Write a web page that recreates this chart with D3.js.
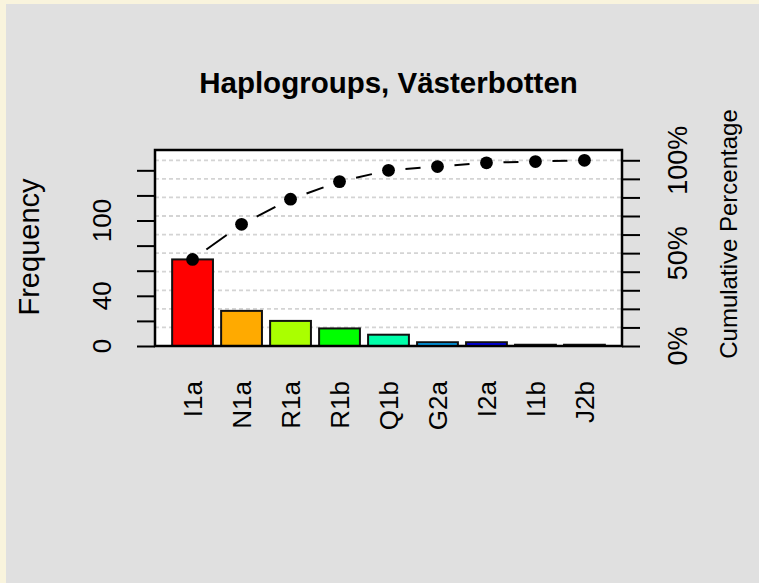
<!DOCTYPE html>
<html>
<head>
<meta charset="utf-8">
<script src="https://cdn.jsdelivr.net/npm/d3@7"></script>
<style>
  body { margin: 0; padding: 0; }
  svg { display: block; font-family: "Liberation Sans", Arial, sans-serif; }
</style>
</head>
<body>
<svg id="graph" width="759" height="583"></svg>
<script>
// data
var groups = ["I1a", "N1a", "R1a", "R1b", "Q1b", "G2a", "I2a", "I1b", "J2b"]
var freq = [69, 28, 20, 14, 9, 3, 3, 1, 1]
var barColors = ["#FF0000", "#FFAA00", "#AAFF00", "#00FF00", "#00FFAA", "#00AAFF", "#0000FF", "#AA00FF", "#FF00AA"]
var leftTicks = [0, 20, 40, 60, 80, 100, 120, 140]
var leftLabels = [0, 40, 100]
var pctTicks = [0, 10, 20, 30, 40, 50, 60, 70, 80, 90, 100]
var pctLabels = [0, 50, 100]

var total = d3.sum(freq)
var cum = Array.from(d3.cumsum(freq))

var box = { left: 155, right: 622, top: 151, bottom: 346 }

var svg = d3.select("#graph")

svg.append("rect").attr("width", 759).attr("height", 583).attr("fill", "#f9f4dd")
svg.append("rect").attr("x", 6).attr("y", 4).attr("width", 753).attr("height", 579).attr("fill", "#e0e0e0")

var xScale = d3.scaleBand().domain(groups)
    .range([box.left, box.right])
    .paddingInner(1 / 6)
    .paddingOuter(0.35)

var yScale = d3.scaleLinear().domain([0, total * 1.05]).range([box.bottom, box.top])
var pScale = d3.scaleLinear().domain([0, 100]).range([yScale(0), yScale(total)])

// plot area
svg.append("rect")
    .attr("x", box.left).attr("y", box.top - 1)
    .attr("width", box.right - box.left).attr("height", box.bottom - box.top + 1)
    .attr("fill", "white")

// dashed grid at the percentage ticks
svg.selectAll(".grid")
    .data(pctTicks.slice(1))
    .enter().append("line")
    .attr("x1", box.left).attr("x2", box.right)
    .attr("y1", d => pScale(d)).attr("y2", d => pScale(d))
    .attr("stroke", "#d4d4d4")
    .attr("stroke-width", 1.8)
    .attr("stroke-dasharray", "4,3")

svg.selectAll(".bar")
    .data(freq)
    .enter().append("rect")
    .attr("x", (d, i) => xScale(groups[i]))
    .attr("y", d => yScale(d))
    .attr("width", xScale.bandwidth())
    .attr("height", d => yScale(0) - yScale(d))
    .attr("fill", (d, i) => barColors[i])
    .attr("stroke", "#111")
    .attr("stroke-width", 2)

// cumulative line, type "b": segments with gaps round the points
var pts = cum.map((c, i) => ({ x: xScale(groups[i]) + xScale.bandwidth() / 2, y: yScale(c) }))
var gap = 17
for (var i = 0; i < pts.length - 1; i++) {
    var a = pts[i], b = pts[i + 1]
    var dx = b.x - a.x, dy = b.y - a.y
    var len = Math.sqrt(dx * dx + dy * dy)
    if (len <= 2 * gap) continue
    var ux = dx / len, uy = dy / len
    svg.append("line")
        .attr("x1", a.x + ux * gap).attr("y1", a.y + uy * gap)
        .attr("x2", b.x - ux * gap).attr("y2", b.y - uy * gap)
        .attr("stroke", "black")
        .attr("stroke-width", 2)
        .attr("stroke-dasharray", "25,12")
}

svg.selectAll(".pt")
    .data(pts)
    .enter().append("circle")
    .attr("cx", d => d.x).attr("cy", d => d.y)
    .attr("r", 6.4)
    .attr("fill", "black")

// box
svg.append("rect")
    .attr("x", box.left).attr("y", box.top - 1)
    .attr("width", box.right - box.left).attr("height", box.bottom - box.top + 1)
    .attr("fill", "none")
    .attr("stroke", "black")
    .attr("stroke-width", 2.5)

// left axis
var leftAxis = svg.append("g")
    .attr("transform", "translate(" + box.left + ",0)")
    .call(d3.axisLeft(yScale).tickValues(leftTicks).tickSize(18).tickFormat(""))
leftAxis.select(".domain").remove()
leftAxis.selectAll(".tick line").attr("stroke", "black").attr("stroke-width", 2)

svg.selectAll(".ylab")
    .data(leftLabels)
    .enter().append("text")
    .attr("transform", d => "translate(111," + yScale(d) + ") rotate(-90)")
    .attr("text-anchor", "middle")
    .attr("font-size", 26)
    .text(d => d)

// right axis
var rightAxis = svg.append("g")
    .attr("transform", "translate(" + box.right + ",0)")
    .call(d3.axisRight(pScale).tickValues(pctTicks).tickSize(18).tickFormat(""))
rightAxis.select(".domain").remove()
rightAxis.selectAll(".tick line").attr("stroke", "black").attr("stroke-width", 2)

svg.selectAll(".plab")
    .data(pctLabels)
    .enter().append("text")
    .attr("transform", d => "translate(687," + pScale(d) + ") rotate(-90)")
    .attr("text-anchor", "middle")
    .attr("font-size", 27)
    .text(d => d + "%")

// category labels
svg.selectAll(".xlab")
    .data(groups)
    .enter().append("text")
    .attr("transform", d => "translate(" + (xScale(d) + xScale.bandwidth() / 2) + ",381) rotate(-90)")
    .attr("text-anchor", "end")
    .attr("dy", "0.36em")
    .attr("font-size", 26)
    .text(d => d)

// titles
svg.append("text")
    .attr("x", (box.left + box.right) / 2).attr("y", 93)
    .attr("text-anchor", "middle")
    .attr("font-size", 29.5)
    .attr("font-weight", "bold")
    .text("Haplogroups, Västerbotten")

svg.append("text")
    .attr("transform", "translate(39,247) rotate(-90)")
    .attr("text-anchor", "middle")
    .attr("font-size", 29)
    .text("Frequency")

svg.append("text")
    .attr("transform", "translate(737,234) rotate(-90)")
    .attr("text-anchor", "middle")
    .attr("font-size", 24)
    .text("Cumulative Percentage")
</script>
</body>
</html>
